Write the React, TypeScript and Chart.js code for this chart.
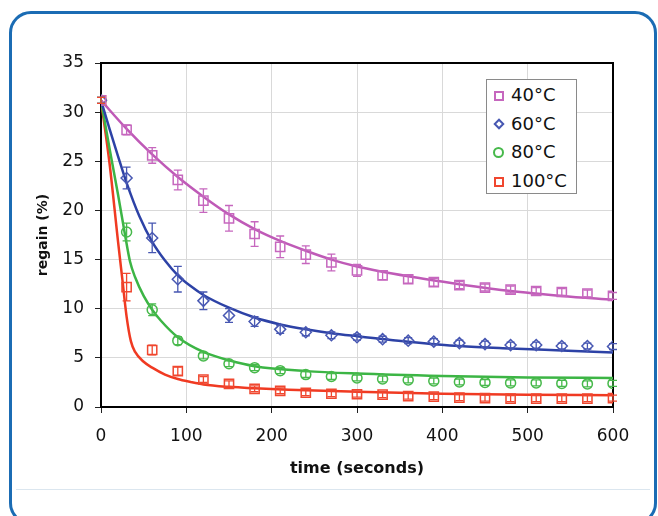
import React, { useEffect, useRef } from "react";
import { Chart, registerables } from "chart.js";

Chart.register(...registerables);

// ---------- data ----------
const seriesLabels = ["40°C", "60°C", "80°C", "100°C"];
const times = [0, 30, 60, 90, 120, 150, 180, 210, 240, 270, 300, 330, 360, 390, 420, 450, 480, 510, 540, 570, 600];

const meas40 = [31.2, 28.2, 25.6, 23.1, 21.0, 19.2, 17.6, 16.3, 15.5, 14.7, 13.9, 13.4, 13.0, 12.7, 12.4, 12.15, 11.95, 11.8, 11.7, 11.55, 11.3];
const err40 = [0.3, 0.5, 0.8, 1.0, 1.2, 1.3, 1.25, 1.1, 0.9, 0.85, 0.6, 0.45, 0.4, 0.4, 0.35, 0.35, 0.35, 0.35, 0.35, 0.35, 0.35];

const meas60 = [31.2, 23.3, 17.2, 13.0, 10.8, 9.3, 8.7, 7.9, 7.6, 7.3, 7.1, 6.9, 6.75, 6.65, 6.5, 6.4, 6.3, 6.3, 6.2, 6.2, 6.15];
const err60 = [0.3, 1.1, 1.5, 1.3, 0.9, 0.7, 0.5, 0.4, 0.35, 0.35, 0.3, 0.3, 0.3, 0.3, 0.3, 0.3, 0.3, 0.3, 0.3, 0.3, 0.3];

const meas80 = [31.2, 17.8, 9.9, 6.75, 5.2, 4.4, 4.0, 3.7, 3.3, 3.1, 2.95, 2.85, 2.75, 2.65, 2.55, 2.5, 2.45, 2.45, 2.4, 2.35, 2.4];
const err80 = [0.3, 0.9, 0.6, 0.4, 0.3, 0.3, 0.3, 0.3, 0.3, 0.3, 0.3, 0.3, 0.3, 0.3, 0.3, 0.3, 0.3, 0.3, 0.3, 0.3, 0.3];

const meas100 = [31.2, 12.2, 5.8, 3.65, 2.8, 2.35, 1.85, 1.65, 1.45, 1.35, 1.3, 1.25, 1.1, 1.05, 0.95, 0.9, 0.85, 0.85, 0.85, 0.85, 0.9];
const err100 = [0.3, 1.4, 0.5, 0.4, 0.3, 0.3, 0.3, 0.3, 0.3, 0.3, 0.3, 0.3, 0.3, 0.3, 0.3, 0.3, 0.3, 0.3, 0.3, 0.3, 0.3];

const fitTime40 = [0, 30, 60, 90, 120, 150, 180, 210, 240, 270, 300, 360, 420, 480, 540, 600];
const fit40 = [31.2, 28.3, 25.7, 23.4, 21.4, 19.6, 18.1, 16.9, 15.9, 15.0, 14.3, 13.3, 12.5, 11.8, 11.3, 10.9];

const fitTime60 = [0, 10, 20, 30, 45, 60, 75, 90, 105, 120, 150, 180, 210, 240, 270, 300, 360, 420, 480, 540, 600];
const fit60 = [31.2, 28.3, 25.5, 22.8, 19.4, 16.8, 14.9, 13.4, 12.3, 11.4, 10.1, 9.1, 8.4, 7.9, 7.5, 7.2, 6.65, 6.2, 5.95, 5.75, 5.55];

const fitTime80 = [0, 10, 20, 28, 34, 40, 50, 60, 70, 90, 120, 150, 180, 240, 300, 400, 500, 600];
const fit80 = [31.2, 26.3, 21.6, 17.6, 14.8, 13.2, 11.3, 9.9, 8.8, 7.1, 5.6, 4.75, 4.15, 3.65, 3.4, 3.15, 3.0, 2.95];

const fitTime100 = [0, 10, 20, 25, 30, 35, 40, 50, 60, 75, 90, 105, 120, 150, 180, 220, 300, 400, 500, 600];
const fit100 = [31.2, 24.8, 16.8, 13.0, 9.2, 6.7, 5.6, 4.6, 4.0, 3.3, 2.85, 2.55, 2.3, 2.05, 1.9, 1.75, 1.55, 1.35, 1.25, 1.2];

const xTicksStep = 100;
const yTicksStep = 5;

// ---------- styles ----------
const FONT = "'DejaVu Sans', 'Liberation Sans', Arial, sans-serif";
const markerColors = ["#c667be", "#4757b2", "#47b94b", "#f0472f"];
const lineColors = ["#bf5ab7", "#2d42a6", "#3cb545", "#f03a22"];
const pointStyles = ["rect", "rectRot", "circle", "rect"];
const pointRadii = [6.5, 5.5, 5, 6.5];

const measured = [meas40, meas60, meas80, meas100];
const errors = [err40, err60, err80, err100];
const fitTimes = [fitTime40, fitTime60, fitTime80, fitTime100];
const fits = [fit40, fit60, fit80, fit100];

const toXY = (t: number[], v: number[]) => t.map((x, i) => ({ x, y: v[i] }));

const frameAndErrorPlugin = {
  id: "frameAndErrors",
  beforeDatasetsDraw(chart: any) {
    const { ctx, chartArea } = chart;
    ctx.save();
    ctx.strokeStyle = "#000";
    ctx.lineWidth = 2;
    ctx.strokeRect(chartArea.left, chartArea.top, chartArea.right - chartArea.left, chartArea.bottom - chartArea.top);
    ctx.restore();
  },
  afterDatasetsDraw(chart: any) {
    const { ctx } = chart;
    const yScale = chart.scales.y;
    ctx.save();
    ctx.lineWidth = 1.3;
    for (let s = 0; s < 4; s++) {
      const meta = chart.getDatasetMeta(s);
      ctx.strokeStyle = markerColors[s];
      meta.data.forEach((el: any, j: number) => {
        const v = measured[s][j];
        const e = errors[s][j];
        const yt = yScale.getPixelForValue(v + e);
        const yb = yScale.getPixelForValue(v - e);
        const x = el.x;
        ctx.beginPath();
        ctx.moveTo(x, yt);
        ctx.lineTo(x, yb);
        ctx.moveTo(x - 4, yt);
        ctx.lineTo(x + 4, yt);
        ctx.moveTo(x - 4, yb);
        ctx.lineTo(x + 4, yb);
        ctx.stroke();
      });
    }
    ctx.restore();
  },
};

function LegendMarker({ i }: { i: number }) {
  const c = markerColors[i];
  const base: React.CSSProperties = { position: "absolute", boxSizing: "border-box", border: `2px solid ${c}` };
  if (pointStyles[i] === "circle") {
    return <div style={{ ...base, left: 6, top: 5, width: 11, height: 11, borderRadius: "50%" }} />;
  }
  if (pointStyles[i] === "rectRot") {
    return <div style={{ ...base, left: 7.5, top: 6.5, width: 8, height: 8, transform: "rotate(45deg)" }} />;
  }
  return <div style={{ ...base, left: 6.5, top: 5.5, width: 10, height: 10 }} />;
}

export default function App() {
  const canvasRef = useRef<HTMLCanvasElement | null>(null);

  useEffect(() => {
    if (!canvasRef.current) return;
    const datasets: any[] = [];
    for (let s = 0; s < 4; s++) {
      datasets.push({
        label: seriesLabels[s],
        data: toXY(times, measured[s]),
        showLine: false,
        pointStyle: pointStyles[s],
        pointRadius: pointRadii[s],
        pointBorderColor: markerColors[s],
        pointBackgroundColor: "rgba(0,0,0,0)",
        pointBorderWidth: 1.5,
        borderColor: markerColors[s],
        order: 0,
      });
    }
    for (let s = 0; s < 4; s++) {
      datasets.push({
        label: seriesLabels[s] + " fit",
        data: toXY(fitTimes[s], fits[s]),
        borderColor: lineColors[s],
        borderWidth: 2.5,
        pointRadius: 0,
        fill: false,
        cubicInterpolationMode: "monotone",
        order: 1,
      });
    }

    const chart = new Chart(canvasRef.current, {
      type: "line",
      data: { datasets },
      options: {
        responsive: false,
        animation: false,
        devicePixelRatio: 1,
        layout: { padding: { left: 0, top: 63, right: 45, bottom: 0 } },
        plugins: { legend: { display: false }, tooltip: { enabled: false } },
        scales: {
          x: {
            type: "linear",
            min: 0,
            max: 600,
            ticks: { stepSize: xTicksStep, color: "#111", font: { family: FONT, size: 17 }, padding: 13, maxRotation: 0 },
            grid: { color: "#d9d9d9", lineWidth: 1, tickLength: 6, tickColor: "#222", tickWidth: 1 },
            border: { color: "#000", width: 2 },
            title: {
              display: true,
              text: "time (seconds)",
              color: "#111",
              font: { family: FONT, size: 16, weight: "bold" },
              padding: { top: 0, bottom: 38 },
            },
            afterFit: (s: any) => {
              s.height = 109;
            },
          },
          y: {
            type: "linear",
            min: 0,
            max: 35,
            ticks: { stepSize: yTicksStep, color: "#111", font: { family: FONT, size: 17 }, padding: 11 },
            grid: { color: "#d9d9d9", lineWidth: 1, tickLength: 6, tickColor: "#222", tickWidth: 1 },
            border: { color: "#000", width: 2 },
            title: {
              display: true,
              text: "regain (%)",
              color: "#111",
              font: { family: FONT, size: 14, weight: "bold" },
              padding: { top: 35, bottom: 0 },
            },
            afterFit: (s: any) => {
              s.width = 101;
            },
          },
        },
      } as any,
      plugins: [frameAndErrorPlugin],
    });
    return () => chart.destroy();
  }, []);

  return (
    <div style={{ position: "fixed", left: 0, top: 0, width: 658, height: 516, overflow: "hidden", background: "#fff" }}>
      <div
        style={{
          position: "absolute",
          left: 9,
          top: 11,
          width: 648,
          height: 514,
          boxSizing: "border-box",
          border: "3px solid #1b6cb4",
          borderRadius: 22,
        }}
      />
      <div style={{ position: "absolute", left: 16, top: 489, width: 634, height: 1, background: "#dbe6ef" }} />
      <canvas ref={canvasRef} width={658} height={516} style={{ position: "absolute", left: 0, top: 0, width: 658, height: 516 }} />
      <div
        style={{
          position: "absolute",
          left: 486,
          top: 79,
          width: 91,
          height: 115,
          boxSizing: "border-box",
          border: "1px solid #8a8a8a",
          background: "#fff",
        }}
      >
        {seriesLabels.map((lab, i) => (
          <div key={lab} style={{ position: "absolute", left: 0, top: 5 + i * 28.7, width: 89, height: 20 }}>
            <LegendMarker i={i} />
            <span
              style={{
                position: "absolute",
                left: 24,
                top: 0,
                lineHeight: "20px",
                fontFamily: FONT,
                fontSize: 18,
                color: "#111",
                whiteSpace: "nowrap",
              }}
            >
              {lab}
            </span>
          </div>
        ))}
      </div>
    </div>
  );
}
